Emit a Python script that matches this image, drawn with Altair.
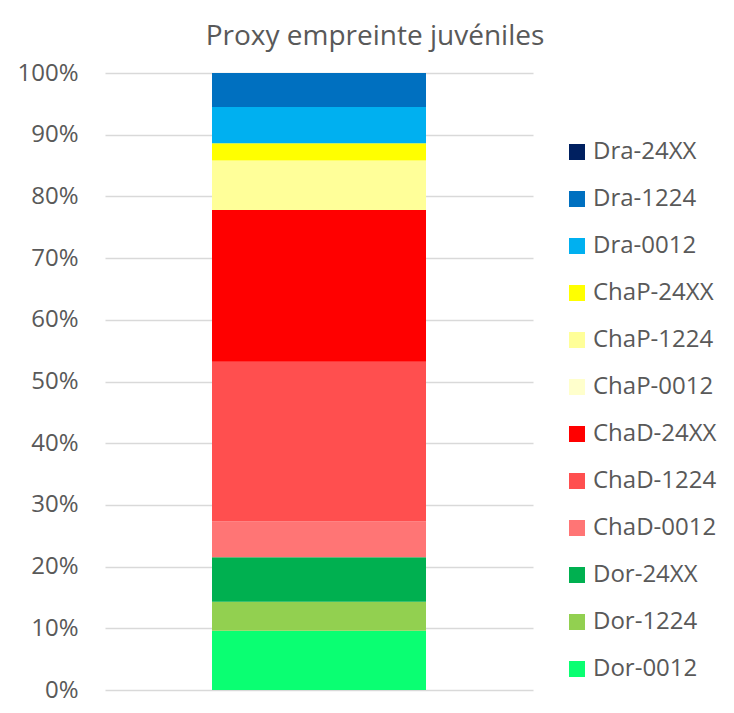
import altair as alt
import pandas as pd

series = ["Dor-0012", "Dor-1224", "Dor-24XX",
          "ChaD-0012", "ChaD-1224", "ChaD-24XX",
          "ChaP-0012", "ChaP-1224", "ChaP-24XX",
          "Dra-0012", "Dra-1224", "Dra-24XX"]
values = [9.6, 4.7, 7.2, 5.8, 25.9, 24.6, 0.0, 8.0, 2.8, 5.9, 5.5, 0.0]
colors = ["#0AFF72", "#92D050", "#00B050",
          "#FF7575", "#FF4F4F", "#FF0000",
          "#FFFFCC", "#FFFF99", "#FFFF00",
          "#00B0F0", "#0070C0", "#002060"]
category = "Proxy"

df = pd.DataFrame({
    "serie": series,
    "valeur": [v / 100 for v in values],
    "ordre": list(range(len(series))),
    "cat": [category] * len(series),
})

legend_domain = series[::-1]
legend_range = colors[::-1]

chart = alt.Chart(df).mark_bar(size=214).encode(
    x=alt.X("cat:N", axis=None),
    y=alt.Y("sum(valeur):Q", stack="zero",
            scale=alt.Scale(domain=[0, 1], nice=False),
            axis=alt.Axis(format=".0%", values=[i / 10 for i in range(11)],
                          title=None, domain=False, ticks=False,
                          labelPadding=27, labelFontSize=24,
                          labelColor="#595959", labelFont="Open Sans",
                          gridColor="#D9D9D9", gridWidth=1.3)),
    color=alt.Color("serie:N",
                    scale=alt.Scale(domain=legend_domain, range=legend_range),
                    legend=alt.Legend(title=None, orient="none",
                                      legendX=460, legendY=67,
                                      symbolType="square", symbolSize=256,
                                      symbolStrokeWidth=0,
                                      labelFontSize=24, labelColor="#595959",
                                      labelFont="Open Sans", labelOffset=4,
                                      rowPadding=23)),
    order=alt.Order("ordre:Q", sort="ascending"),
).properties(
    width=428,
    height=617,
    title=alt.TitleParams("Proxy empreinte juvéniles", fontSize=28,
                          font="Open Sans", fontWeight="normal",
                          color="#595959", dx=56, offset=10),
    autosize=alt.AutoSizeParams(type="none"),
    padding={"left": 97, "top": 65, "right": 190, "bottom": 15},
).configure_view(stroke=None).configure_axis(grid=True)

chart.save("out.html", embed_options={"renderer": "svg", "actions": False})
